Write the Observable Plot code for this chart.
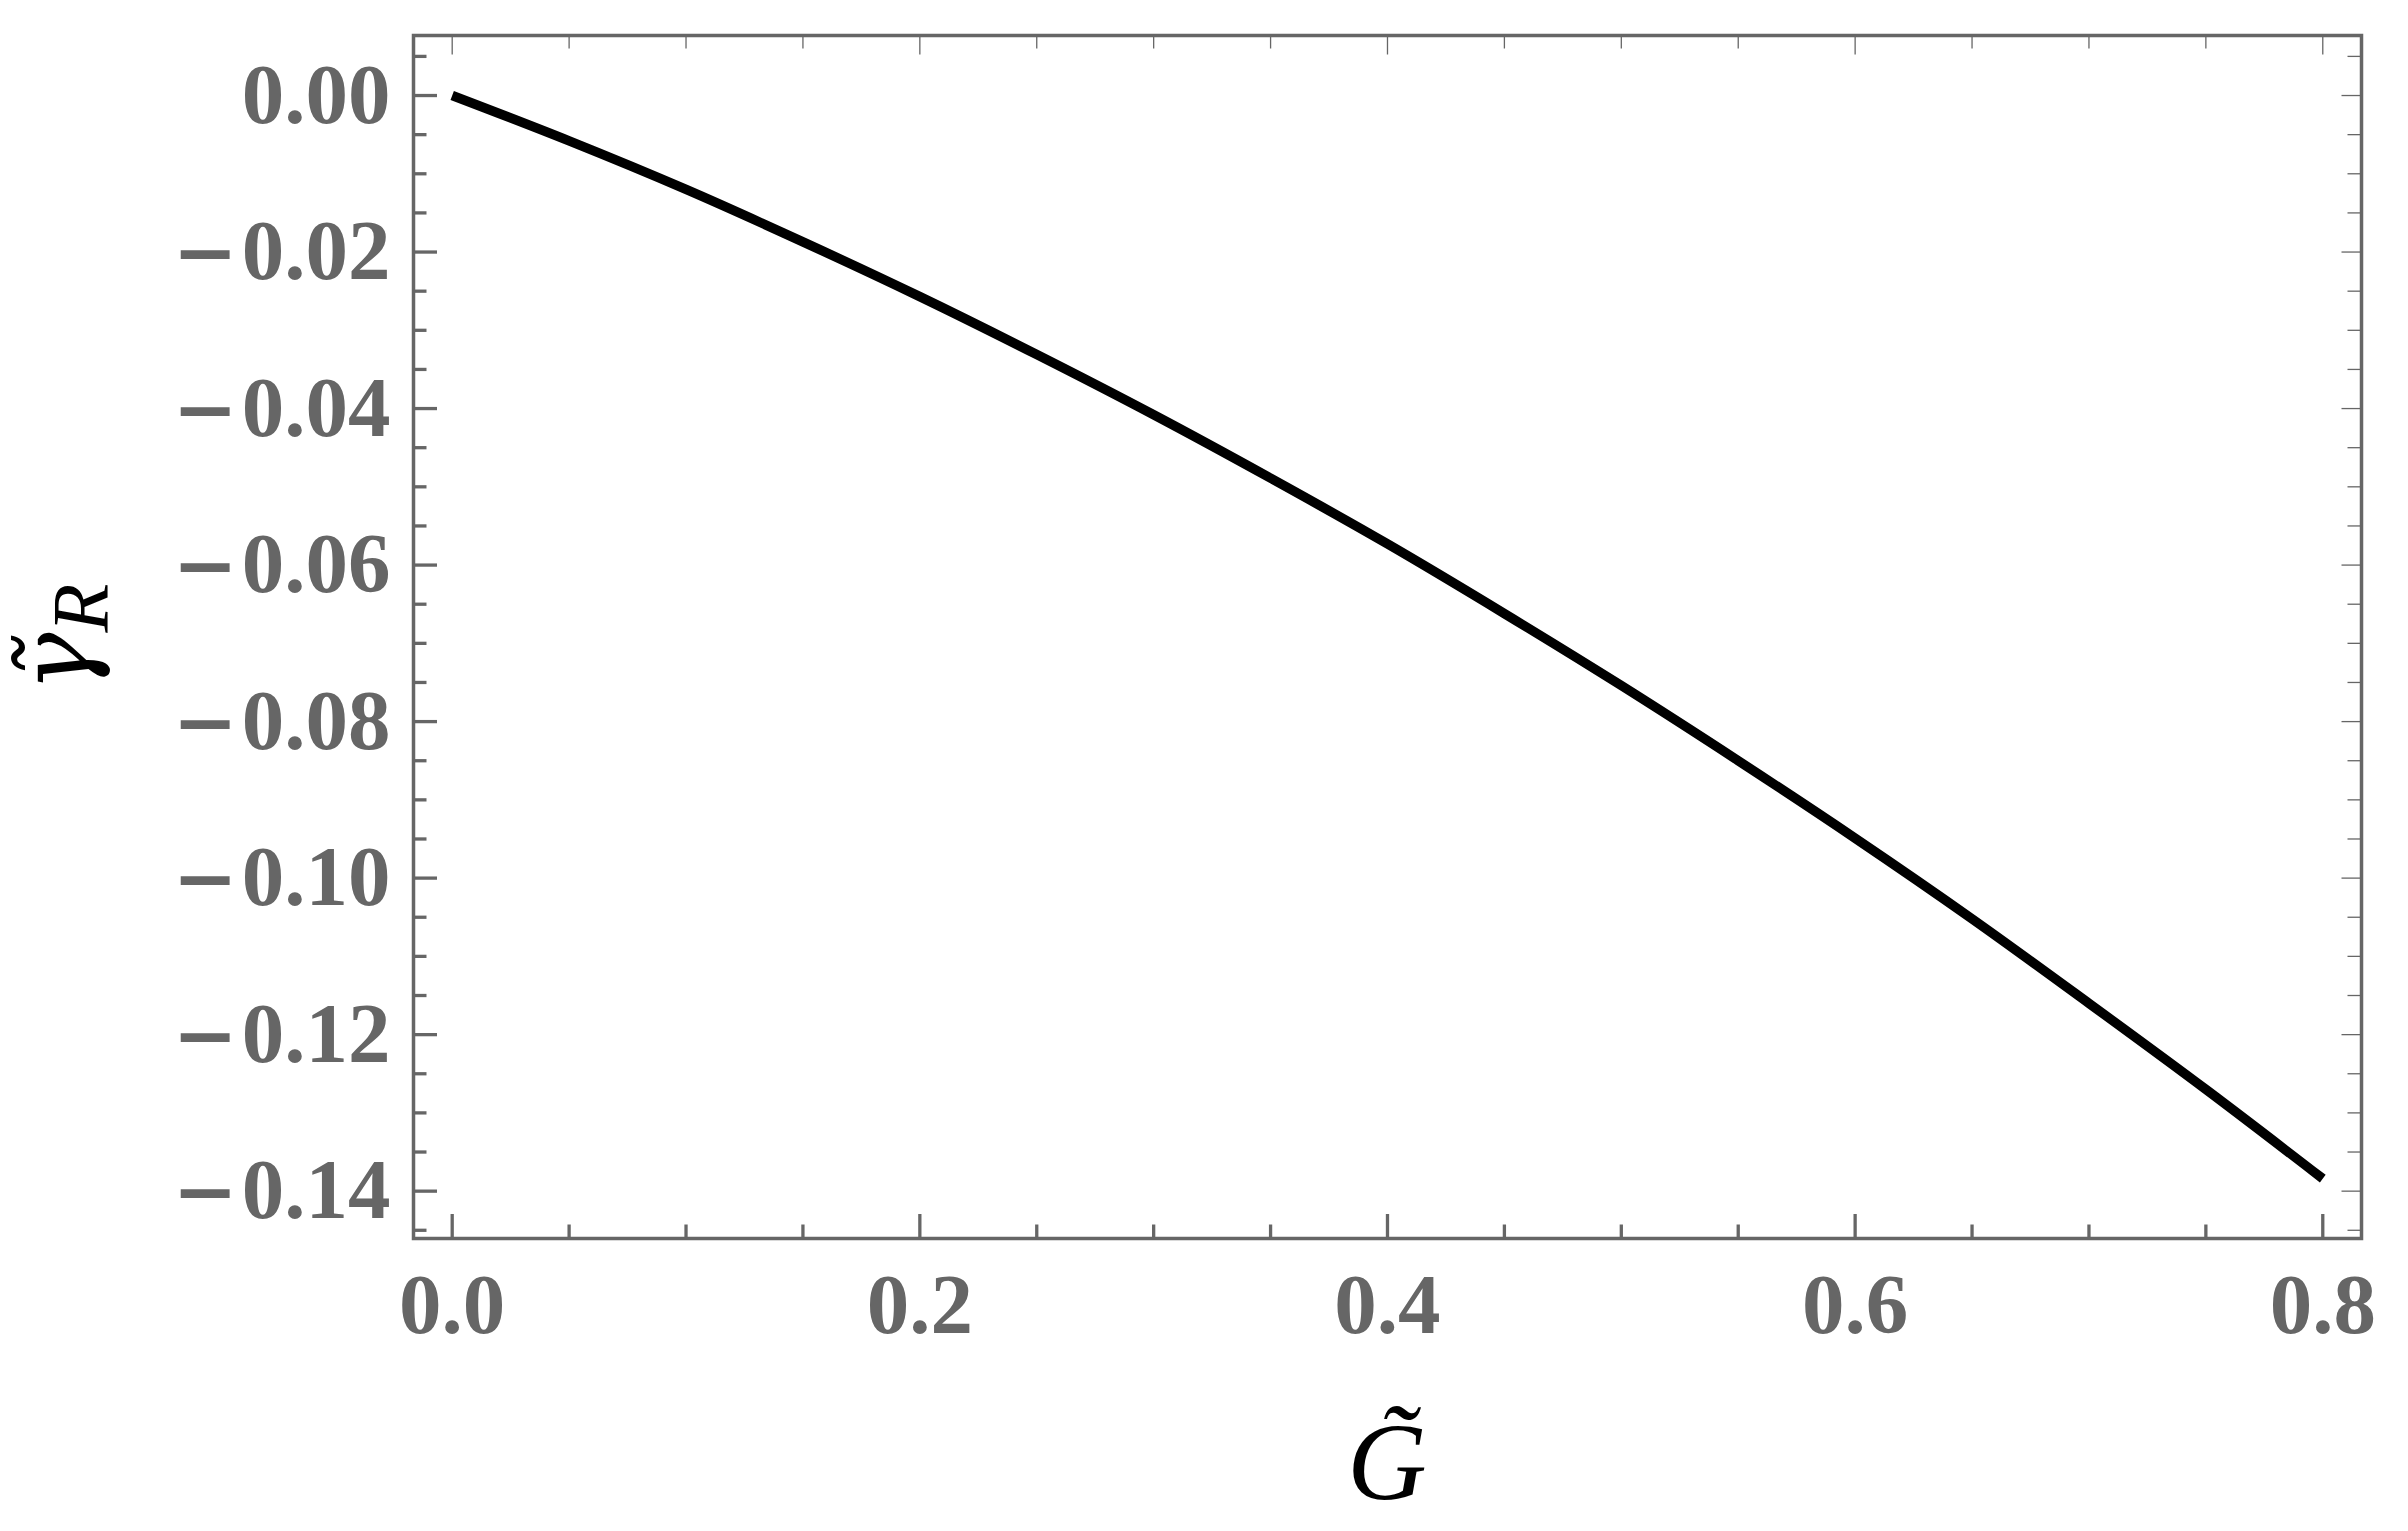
<!DOCTYPE html>
<html><head><meta charset="utf-8">
<script src="https://cdn.jsdelivr.net/npm/d3@7"></script>
<script src="https://cdn.jsdelivr.net/npm/@observablehq/plot@0.6"></script>
<style>html,body{margin:0;padding:0;background:#fff;} svg{display:block}</style>
</head><body><div id="chart"></div>
<script>
// Data
const gValues = [0, 0.05, 0.1, 0.15, 0.2, 0.25, 0.3, 0.35, 0.4, 0.45, 0.5, 0.55, 0.6, 0.65, 0.7, 0.75, 0.8];
const gammaValues = [0, -0.0058, -0.0120, -0.0187, -0.0257, -0.0331, -0.0408, -0.0489, -0.0573, -0.0662, -0.0754, -0.0850, -0.0949, -0.1052, -0.1160, -0.1270, -0.1384];

const xMajorTicks = [0, 0.2, 0.4, 0.6, 0.8];
const xMinorTicks = [0.05, 0.1, 0.15, 0.25, 0.3, 0.35, 0.45, 0.5, 0.55, 0.65, 0.7, 0.75];
const yMajorTicks = [0, -0.02, -0.04, -0.06, -0.08, -0.10, -0.12, -0.14];
const yMinorTicks = [0.005, -0.005, -0.01, -0.015, -0.025, -0.03, -0.035, -0.045, -0.05, -0.055,
  -0.065, -0.07, -0.075, -0.085, -0.09, -0.095, -0.105, -0.11, -0.115, -0.125, -0.13, -0.135, -0.145];

const data = gValues.map((g, i) => ({g, gamma: gammaValues[i]}));

const W = 2408, H = 1531;
const mL = 413, mR = 47, mT = 35, mB = 293;
const pw = W - mL - mR, ph = H - mT - mB;
const gray = "#666666";
const font = "Liberation Serif";

const fmtY = d => d === 0 ? "0.00" : "\u2212" + Math.abs(d).toFixed(2);
const fmtX = d => d.toFixed(1);

const plot = Plot.plot({
  width: W, height: H,
  marginLeft: mL, marginRight: mR, marginTop: mT, marginBottom: mB,
  style: {fontFamily: font, background: "white"},
  x: {domain: [-0.01655, 0.81656], axis: null},
  y: {domain: [-0.14605, 0.00767], axis: null},
  marks: [
    Plot.line(data, {x: "g", y: "gamma", stroke: "black", strokeWidth: 9.5, curve: "catmull-rom", strokeLinecap: "butt"}),
    // left ticks (thick)
    Plot.tickY(yMajorTicks, {y: d => d, stroke: gray, strokeWidth: 3.3, insetRight: pw - 24}),
    Plot.tickY(yMinorTicks, {y: d => d, stroke: gray, strokeWidth: 3.3, insetRight: pw - 13.5}),
    // right ticks (thin)
    Plot.tickY(yMajorTicks, {y: d => d, stroke: gray, strokeWidth: 1.3, insetLeft: pw - 19.5}),
    Plot.tickY(yMinorTicks, {y: d => d, stroke: gray, strokeWidth: 1.3, insetLeft: pw - 13.5}),
    // bottom ticks (thick)
    Plot.tickX(xMajorTicks, {x: d => d, stroke: gray, strokeWidth: 3.3, insetTop: ph - 24}),
    Plot.tickX(xMinorTicks, {x: d => d, stroke: gray, strokeWidth: 3.3, insetTop: ph - 13.5}),
    // top ticks (thin)
    Plot.tickX(xMajorTicks, {x: d => d, stroke: gray, strokeWidth: 1.3, insetBottom: ph - 19.5}),
    Plot.tickX(xMinorTicks, {x: d => d, stroke: gray, strokeWidth: 1.3, insetBottom: ph - 13.5}),
    Plot.frame({stroke: gray, strokeWidth: 3.5}),
    // tick labels
    Plot.text(yMajorTicks, {y: d => d, text: fmtY, frameAnchor: "left", textAnchor: "end", lineAnchor: "middle",
      dx: -23, fontSize: 85, fontWeight: "bold", fill: gray, fontFamily: font}),
    Plot.text(xMajorTicks, {x: d => d, text: fmtX, frameAnchor: "bottom", textAnchor: "middle", lineAnchor: "top",
      dy: 34, fontSize: 85, fontWeight: "bold", fill: gray, fontFamily: font})
  ]
});

const svg = d3.select(plot);

// Wider minus sign (Mathematica style) for negative tick labels
svg.selectAll("text").each(function() {
  const s = this.textContent;
  if (s.startsWith("\u2212")) {
    const el = d3.select(this);
    el.text(null);
    el.append("tspan").attr("font-family", "DejaVu Serif").attr("font-size", 78).text("\u2212");
    el.append("tspan").attr("dx", 4).text(s.slice(1));
  }
});

// Axis labels (italic math-style)
const cx = mL + pw / 2;
svg.append("text")
  .attr("x", cx).attr("y", 1499)
  .attr("text-anchor", "middle")
  .attr("font-family", font).attr("font-style", "italic").attr("font-size", 110)
  .attr("fill", "black").text("G\u0303");

const yl = svg.append("g").attr("transform", "translate(89,638) rotate(-90)");
const t = yl.append("text")
  .attr("x", 0).attr("y", 0)
  .attr("text-anchor", "middle")
  .attr("font-family", "DejaVu Serif").attr("font-style", "italic").attr("font-size", 100)
  .attr("fill", "black");
t.append("tspan").text("\u03B3\u0303");
t.append("tspan").attr("dy", 19).attr("font-size", 80).attr("font-family", font).text("R");

document.getElementById("chart").appendChild(plot);
</script>
</body></html>
